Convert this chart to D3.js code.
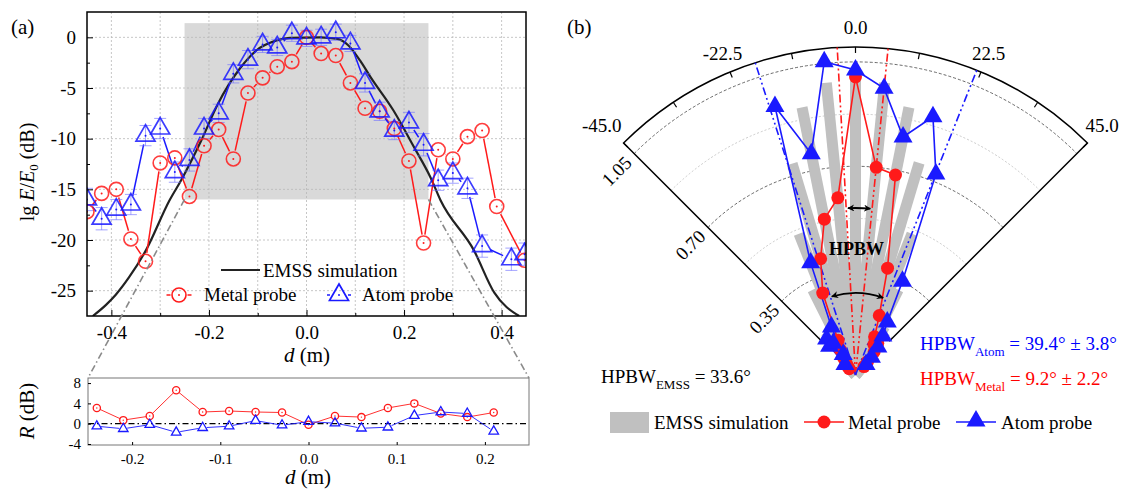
<!DOCTYPE html>
<html>
<head>
<meta charset="utf-8">
<title>Beam profile and HPBW</title>
<script src="https://cdnjs.cloudflare.com/ajax/libs/d3/7.8.5/d3.min.js"></script>
<style>
	body { margin: 0; background: white; }
	svg text { font-family: "Liberation Serif", "Times New Roman", serif; fill: black; }
</style>
</head>
<body>
<svg id="fig" width="1129" height="489"></svg>
<script>

	// ---------- data, panel (a): transverse position d (m) and lg E/E0 (dB)
	var metalD  = [-0.45,-0.42,-0.39,-0.36,-0.33,-0.30,-0.27,-0.24,-0.21,-0.18,-0.15,-0.12,-0.09,-0.06,-0.03,0,
		0.03,0.06,0.09,0.12,0.15,0.18,0.21,0.24,0.27,0.30,0.33,0.36,0.39,0.447];
	var metalDb = [-17.2,-15.4,-15.0,-19.9,-22.1,-12.4,-11.9,-15.7,-10.7,-9.1,-12.0,-5.5,-4.0,-2.9,-2.4,0,
		-1.6,-1.8,-4.5,-7.0,-7.3,-9.0,-12.2,-20.3,-11.1,-12.0,-9.8,-9.2,-16.7,-22.0];
	var atomD   = [-0.45,-0.42,-0.39,-0.36,-0.33,-0.30,-0.27,-0.24,-0.21,-0.18,-0.15,-0.12,-0.09,-0.06,-0.03,0,
		0.03,0.06,0.09,0.12,0.15,0.18,0.21,0.24,0.27,0.30,0.33,0.36,0.42,0.447];
	var atomDb  = [-16.0,-17.9,-17.0,-16.5,-9.7,-9.0,-13.3,-12.1,-9.0,-7.5,-3.6,-2.2,-0.7,-1.0,0.4,-0.1,
		0,0.5,-0.6,-4.5,-7.3,-9.2,-8.4,-10.6,-14.1,-13.4,-14.9,-20.6,-21.9,-21.4];
	var atomErr = [1.1,1.1,1.0,1.0,1.0,1.0,1.0,1.1,1.0,0.9,0.9,0.9,0.8,0.8,0.8,0.8,
		0.8,0.8,0.8,0.9,0.9,0.9,1.0,1.1,1.0,1.0,1.0,1.1,1.1,1.1];
	var emssD   = [-0.438,-0.411,-0.391,-0.364,-0.329,-0.281,-0.257,-0.216,-0.182,-0.137,-0.103,-0.061,-0.034,
		0.028,0.063,0.086,0.11,0.131,0.178,0.22,0.254,0.275,0.343,0.385,0.436];
	var emssDb  = [-27.5,-26.4,-25.4,-23.7,-21.0,-16.1,-14.1,-10.2,-6.6,-3.1,-1.3,-0.3,-0.05,
		0,-0.15,-0.8,-2.3,-3.9,-7.2,-10.8,-13.8,-16.1,-21.0,-25.2,-27.5];

	// residuals (bottom of panel a)
	var resD     = [-0.24,-0.21,-0.18,-0.15,-0.12,-0.09,-0.06,-0.03,0,0.03,0.06,0.09,0.12,0.15,0.18,0.21];
	var resMetal = [3.1,0.7,1.5,6.6,2.3,2.5,2.3,2.2,-0.2,1.5,1.3,3.1,4.0,2.0,1.3,2.2];
	var resAtom  = [-0.5,-1.0,-0.2,-1.7,-0.8,-0.5,0.6,-0.3,0.4,0.1,-0.9,-0.7,1.6,2.3,2.0,-1.5];

	// ---------- data, panel (b): angle (deg) and normalized amplitude
	var polarAng = [-45,-42,-38.7,-35,-31,-26.6,-21.8,-16.7,-11.3,-5.7,0,5.7,11.3,16.7,21.8,26.6,31,35,38.7,42,45];
	var emssR    = [0.01,0.02,0.04,0.08,0.18,0.32,0.51,0.74,0.915,0.985,1.0,0.985,0.915,0.743,0.51,0.32,0.19,0.1,0.05,0.025,0.01];
	var metalR   = [0.03,0.04,0.05,0.07,0.10,0.13,0.296,0.407,0.533,0.597,1.0,0.70,0.684,0.374,0.215,0.143,0.12,0.13,0.10,0.06,0.04];
	var atomR    = [0.05,0.13,0.155,0.13,0.08,0.18,0.405,0.94,0.757,1.056,1.023,0.966,0.814,0.904,0.726,0.352,0.207,0.16,0.12,0.08,0.05];
	var hpbwMetal = [-3.2, 5.7];
	var hpbwAtom  = [-17.8, 21.7];
	var angTicks  = [-45,-33.75,-22.5,-11.25,0,11.25,22.5,33.75,45];
	var angLabels = [-22.5, 0, 22.5];
	var radLabels = [0.35, 0.70, 1.05];

	var RED = "#ff1a1a", BLUE = "#1a1aff";
	var svg = d3.select("#fig");

	var defs = svg.append("defs");
	defs.append("clipPath").attr("id", "clipA").append("rect")
		.attr("x", 87).attr("y", 12).attr("width", 439).attr("height", 304);
	defs.append("marker").attr("id", "arrow").attr("viewBox", "0 0 10 10")
		.attr("refX", 9).attr("refY", 5).attr("markerWidth", 7).attr("markerHeight", 7)
		.attr("markerUnits", "userSpaceOnUse").attr("orient", "auto-start-reverse")
		.append("path").attr("d", "M0,0L10,5L0,10L3,5Z").attr("fill", "black");

	function tri(s) {
		var h = s * Math.sqrt(3) / 2;
		return "M0," + (-2 * h / 3) + "L" + (s / 2) + "," + (h / 3) + "L" + (-s / 2) + "," + (h / 3) + "Z";
	}

	// line segments that stop short of hollow markers
	function gapSegments(pts, gap) {
		var segs = [];
		for (var i = 0; i < pts.length - 1; i++) {
			var a = pts[i], b = pts[i + 1];
			var dx = b[0] - a[0], dy = b[1] - a[1], L = Math.hypot(dx, dy);
			if (L <= 2 * gap) continue;
			var ux = dx / L, uy = dy / L;
			segs.push([a[0] + ux * gap, a[1] + uy * gap, b[0] - ux * gap, b[1] - uy * gap]);
		}
		return segs;
	}

	function drawSegs(g, segs, color, w) {
		g.selectAll(null).data(segs).enter().append("line")
			.attr("x1", d => d[0]).attr("y1", d => d[1]).attr("x2", d => d[2]).attr("y2", d => d[3])
			.attr("stroke", color).attr("stroke-width", w);
	}

	function styleAxis(g, fs) {
		g.select(".domain").remove();
		g.selectAll(".tick line").attr("stroke", "black").attr("stroke-width", 1);
		g.selectAll(".tick text").attr("font-size", fs).attr("font-family", "Liberation Serif").attr("fill", "black");
	}

	// ================= panel (a), main =================
	var x = d3.scaleLinear().domain([-0.45, 0.45]).range([87, 526]);
	var y = d3.scaleLinear().domain([-27.5, 2.5]).range([316, 12]);

	var gA = svg.append("g");
	gA.append("rect")
		.attr("x", x(-0.25)).attr("y", y(1.4))
		.attr("width", x(0.25) - x(-0.25)).attr("height", y(-16) - y(1.4))
		.attr("fill", "#d9d9d9");

	gA.selectAll("line.vgrid").data(d3.range(-4, 5).map(d => d / 10)).enter().append("line")
		.attr("x1", d => x(d)).attr("x2", d => x(d)).attr("y1", 12).attr("y2", 316)
		.attr("stroke", "#b8b8b8").attr("stroke-width", 0.8).attr("stroke-dasharray", "2,2");
	gA.selectAll("line.hgrid").data([0, -5, -10, -15, -20, -25]).enter().append("line")
		.attr("y1", d => y(d)).attr("y2", d => y(d)).attr("x1", 87).attr("x2", 526)
		.attr("stroke", "#b8b8b8").attr("stroke-width", 0.8).attr("stroke-dasharray", "2,2");

	var plotA = gA.append("g").attr("clip-path", "url(#clipA)");

	plotA.append("path")
		.attr("d", d3.line().x((d, i) => x(emssD[i])).y(d => y(d)).curve(d3.curveMonotoneX)(emssDb))
		.attr("fill", "none").attr("stroke", "#222").attr("stroke-width", 2.2);

	var metalPts = metalD.map((d, i) => [x(d), y(metalDb[i])]);
	var atomPts = atomD.map((d, i) => [x(d), y(atomDb[i])]);

	drawSegs(plotA, gapSegments(metalPts, 8.5), RED, 1.5);
	drawSegs(plotA, gapSegments(atomPts, 9), BLUE, 1.5);

	// faint error bars on the atom probe points
	var eb = plotA.append("g").attr("stroke", "#6f6fff").attr("stroke-width", 0.9).attr("stroke-opacity", 0.7);
	atomD.forEach(function (d, i) {
		var xx = x(d), y0 = y(atomDb[i] - atomErr[i]), y1 = y(atomDb[i] + atomErr[i]);
		eb.append("line").attr("x1", xx).attr("x2", xx).attr("y1", y0).attr("y2", y1);
		eb.append("line").attr("x1", xx - 6).attr("x2", xx + 6).attr("y1", y0).attr("y2", y0);
		eb.append("line").attr("x1", xx - 6).attr("x2", xx + 6).attr("y1", y1).attr("y2", y1);
	});

	plotA.selectAll("circle.m").data(metalPts).enter().append("circle")
		.attr("cx", d => d[0]).attr("cy", d => d[1]).attr("r", 7)
		.attr("fill", "none").attr("stroke", RED).attr("stroke-width", 1.6).attr("stroke-opacity", 0.85);
	plotA.selectAll("circle.md").data(metalPts).enter().append("circle")
		.attr("cx", d => d[0]).attr("cy", d => d[1]).attr("r", 1).attr("fill", RED);
	plotA.selectAll("path.a").data(atomPts).enter().append("path")
		.attr("d", tri(19)).attr("transform", d => "translate(" + d[0] + "," + d[1] + ")")
		.attr("fill", "none").attr("stroke", BLUE).attr("stroke-width", 1.7).attr("stroke-opacity", 0.85);
	plotA.selectAll("circle.ad").data(atomPts).enter().append("circle")
		.attr("cx", d => d[0]).attr("cy", d => d[1]).attr("r", 1).attr("fill", BLUE);

	gA.append("rect").attr("x", 87).attr("y", 12).attr("width", 439).attr("height", 304)
		.attr("fill", "none").attr("stroke", "black").attr("stroke-width", 1.5);

	var axA = gA.append("g").attr("transform", "translate(0,316)")
		.call(d3.axisBottom(x).tickValues([-0.4, -0.2, 0, 0.2, 0.4]).tickFormat(d => d.toFixed(1))
			.tickSize(-6).tickPadding(10));
	styleAxis(axA, 19);
	var axAm = gA.append("g").attr("transform", "translate(0,316)")
		.call(d3.axisBottom(x).tickValues([-0.3, -0.1, 0.1, 0.3]).tickFormat("").tickSize(-3));
	styleAxis(axAm, 19);
	var ayA = gA.append("g").attr("transform", "translate(87,0)")
		.call(d3.axisLeft(y).tickValues([0, -5, -10, -15, -20, -25]).tickFormat(d => String(d))
			.tickSize(-6).tickPadding(11));
	styleAxis(ayA, 19);
	var ayAm = gA.append("g").attr("transform", "translate(87,0)")
		.call(d3.axisLeft(y).tickValues([-2.5, -7.5, -12.5, -17.5, -22.5]).tickFormat("").tickSize(-3));
	styleAxis(ayAm, 19);

	var yl = gA.append("text").attr("transform", "translate(34,172) rotate(-90)")
		.attr("text-anchor", "middle").attr("font-size", 20);
	yl.append("tspan").text("lg ");
	yl.append("tspan").attr("font-style", "italic").text("E");
	yl.append("tspan").text("/");
	yl.append("tspan").attr("font-style", "italic").text("E");
	yl.append("tspan").attr("font-size", 13).attr("dy", 4).text("0");
	yl.append("tspan").attr("dy", -4).text(" (dB)");

	var xl = gA.append("text").attr("x", 307).attr("y", 362).attr("text-anchor", "middle").attr("font-size", 21);
	xl.append("tspan").attr("font-style", "italic").text("d");
	xl.append("tspan").text(" (m)");

	gA.append("text").attr("x", 11).attr("y", 34).attr("font-size", 21).text("(a)");

	// legend (a)
	gA.append("line").attr("x1", 221).attr("x2", 260).attr("y1", 270).attr("y2", 270)
		.attr("stroke", "#222").attr("stroke-width", 2.2);
	gA.append("text").attr("x", 263).attr("y", 277).attr("font-size", 19).text("EMSS simulation");
	drawSegs(gA, gapSegments([[158, 295], [179, 295], [200, 295]], 8.5), RED, 1.5);
	gA.append("circle").attr("cx", 179).attr("cy", 295).attr("r", 7)
		.attr("fill", "none").attr("stroke", RED).attr("stroke-width", 1.6);
	gA.append("circle").attr("cx", 179).attr("cy", 295).attr("r", 1).attr("fill", RED);
	gA.append("text").attr("x", 204).attr("y", 301).attr("font-size", 19).text("Metal probe");
	drawSegs(gA, gapSegments([[318, 295], [339, 295], [360, 295]], 9), BLUE, 1.5);
	gA.append("path").attr("d", tri(19)).attr("transform", "translate(339,295)")
		.attr("fill", "none").attr("stroke", BLUE).attr("stroke-width", 1.7);
	gA.append("circle").attr("cx", 339).attr("cy", 295).attr("r", 1).attr("fill", BLUE);
	gA.append("text").attr("x", 362).attr("y", 301).attr("font-size", 19).text("Atom probe");

	// ================= panel (a), residuals =================
	var bx = d3.scaleLinear().domain([-0.25, 0.25]).range([88, 529]);
	var by = d3.scaleLinear().domain([-4.2, 9]).range([445, 378]);

	var gR = svg.append("g");
	gR.append("line").attr("x1", 88).attr("x2", 529).attr("y1", by(0)).attr("y2", by(0))
		.attr("stroke", "black").attr("stroke-width", 1.2).attr("stroke-dasharray", "6,3,1.5,3");

	var rmPts = resD.map((d, i) => [bx(d), by(resMetal[i])]);
	var raPts = resD.map((d, i) => [bx(d), by(resAtom[i])]);
	drawSegs(gR, gapSegments(rmPts, 3.5), RED, 0.9);
	drawSegs(gR, gapSegments(raPts, 4), BLUE, 0.9);
	gR.selectAll("circle.rm").data(rmPts).enter().append("circle")
		.attr("cx", d => d[0]).attr("cy", d => d[1]).attr("r", 3.6)
		.attr("fill", "none").attr("stroke", RED).attr("stroke-width", 1.3);
	gR.selectAll("circle.rmd").data(rmPts).enter().append("circle")
		.attr("cx", d => d[0]).attr("cy", d => d[1]).attr("r", 0.7).attr("fill", RED);
	gR.selectAll("path.ra").data(raPts).enter().append("path")
		.attr("d", tri(9.5)).attr("transform", d => "translate(" + d[0] + "," + d[1] + ")")
		.attr("fill", "none").attr("stroke", BLUE).attr("stroke-width", 1.3);

	gR.append("rect").attr("x", 88).attr("y", 378).attr("width", 441).attr("height", 67)
		.attr("fill", "none").attr("stroke", "#777").attr("stroke-width", 1);

	var axR = gR.append("g").attr("transform", "translate(0,445)")
		.call(d3.axisBottom(bx).tickValues([-0.2, -0.1, 0, 0.1, 0.2]).tickFormat(d => d.toFixed(1))
			.tickSize(-3).tickPadding(8));
	styleAxis(axR, 15);
	var ayR = gR.append("g").attr("transform", "translate(88,0)")
		.call(d3.axisLeft(by).tickValues([8, 4, 0, -4]).tickFormat(d => String(d))
			.tickSize(-3).tickPadding(7));
	styleAxis(ayR, 15);

	var rl = gR.append("text").attr("transform", "translate(34,411) rotate(-90)")
		.attr("text-anchor", "middle").attr("font-size", 21);
	rl.append("tspan").attr("font-style", "italic").text("R");
	rl.append("tspan").text(" (dB)");
	var bl = gR.append("text").attr("x", 308).attr("y", 484).attr("text-anchor", "middle").attr("font-size", 21);
	bl.append("tspan").attr("font-style", "italic").text("d");
	bl.append("tspan").text(" (m)");

	// zoom guides from the grey box to the residual frame
	[[-0.25, 88], [0.25, 529]].forEach(function (p) {
		svg.append("line").attr("x1", x(p[0])).attr("y1", y(-16)).attr("x2", p[1]).attr("y2", 378)
			.attr("stroke", "#8a8a8a").attr("stroke-width", 1.6).attr("stroke-dasharray", "7,3,1.5,3");
	});

	// ================= panel (b), polar =================
	var cx = 855.5, cy = 375;
	var r = d3.scaleLinear().domain([0, 1.1]).range([0, 328]);
	var ang = d3.scaleLinear().domain([-90, 90]).range([-Math.PI / 2, Math.PI / 2]);
	function px(a, v) { return cx + r(v) * Math.sin(ang(a)); }
	function py(a, v) { return cy - r(v) * Math.cos(ang(a)); }
	function arcPath(v, a0, a1) {
		var p = d3.path();
		p.arc(cx, cy, r(v), ang(a0) - Math.PI / 2, ang(a1) - Math.PI / 2);
		return p.toString();
	}

	var gP = svg.append("g");

	gP.selectAll("path.minor").data([0.175, 0.525, 0.875]).enter().append("path")
		.attr("d", d => arcPath(d, -45, 45)).attr("fill", "none")
		.attr("stroke", "#bdbdbd").attr("stroke-width", 0.8).attr("stroke-dasharray", "2,2");
	gP.selectAll("path.major").data(radLabels).enter().append("path")
		.attr("d", d => arcPath(d, -45, 45)).attr("fill", "none")
		.attr("stroke", "#444").attr("stroke-width", 0.8).attr("stroke-dasharray", "3,2");

	gP.selectAll("rect.bar").data(polarAng).enter().append("rect")
		.attr("x", -5.5).attr("width", 11)
		.attr("y", (d, i) => -r(emssR[i])).attr("height", (d, i) => r(emssR[i]))
		.attr("transform", d => "translate(" + cx + "," + cy + ") rotate(" + d + ")")
		.attr("fill", "#c0c0c0");

	// frame: radial edges and outer arc
	var fr = d3.path();
	fr.moveTo(px(-45, 0.16), py(-45, 0.16));
	fr.lineTo(px(-45, 1.1), py(-45, 1.1));
	fr.arc(cx, cy, r(1.1), ang(-45) - Math.PI / 2, ang(45) - Math.PI / 2);
	fr.lineTo(px(45, 0.16), py(45, 0.16));
	gP.append("path").attr("d", fr.toString()).attr("fill", "none")
		.attr("stroke", "black").attr("stroke-width", 1.5);

	gP.selectAll("line.atick").data(angTicks).enter().append("line")
		.attr("x1", d => px(d, 1.1)).attr("y1", d => py(d, 1.1))
		.attr("x2", d => px(d, 1.08)).attr("y2", d => py(d, 1.08))
		.attr("stroke", "black").attr("stroke-width", 1.2);

	gP.selectAll("text.alab").data(angLabels).enter().append("text")
		.attr("x", d => px(d, 1.166)).attr("y", d => py(d, 1.166))
		.attr("text-anchor", "middle").attr("dominant-baseline", "central").attr("font-size", 19)
		.text(d => d.toFixed(1));
	gP.append("text").attr("x", px(-45, 1.1) - 2).attr("y", py(-45, 1.1) - 11)
		.attr("text-anchor", "end").attr("font-size", 19).text("-45.0");
	gP.append("text").attr("x", px(45, 1.1) - 2).attr("y", py(45, 1.1) - 11)
		.attr("text-anchor", "start").attr("font-size", 19).text("45.0");

	gP.selectAll("text.rlab").data(radLabels).enter().append("text")
		.attr("transform", d => "translate(" + (px(-45, d) - 17.5) + "," + (py(-45, d) + 17.5) + ") rotate(-45)")
		.attr("text-anchor", "middle").attr("dominant-baseline", "central").attr("font-size", 19)
		.text(d => d.toFixed(2));

	// half-power direction lines
	function hpLines(angles, color) {
		gP.selectAll(null).data(angles).enter().append("line")
			.attr("x1", cx).attr("y1", cy).attr("x2", d => px(d, 1.1)).attr("y2", d => py(d, 1.1))
			.attr("stroke", color).attr("stroke-width", 1.6).attr("stroke-dasharray", "8,3,2,3,2,3");
	}
	hpLines(hpbwMetal, RED);
	hpLines(hpbwAtom, BLUE);

	var lineP = (vals) => d3.line().x((d, i) => px(d, vals[i])).y((d, i) => py(d, vals[i]))(polarAng);
	gP.append("path").attr("d", lineP(metalR)).attr("fill", "none").attr("stroke", RED).attr("stroke-width", 1.6);
	gP.append("path").attr("d", lineP(atomR)).attr("fill", "none").attr("stroke", BLUE).attr("stroke-width", 1.6);

	gP.selectAll("circle.pm").data(polarAng).enter().append("circle")
		.attr("cx", (d, i) => px(d, metalR[i])).attr("cy", (d, i) => py(d, metalR[i]))
		.attr("r", 6.5).attr("fill", RED);
	gP.selectAll("path.pa").data(polarAng).enter().append("path")
		.attr("d", tri(19))
		.attr("transform", (d, i) => "translate(" + px(d, atomR[i]) + "," + py(d, atomR[i]) + ")")
		.attr("fill", BLUE);

	// HPBW arrows
	gP.append("path").attr("d", arcPath(0.56, hpbwMetal[0] + 0.6, hpbwMetal[1] - 0.6))
		.attr("fill", "none").attr("stroke", "black").attr("stroke-width", 1.8)
		.attr("marker-start", "url(#arrow)").attr("marker-end", "url(#arrow)");
	gP.append("path").attr("d", arcPath(0.275, hpbwAtom[0] + 1, hpbwAtom[1] - 2))
		.attr("fill", "none").attr("stroke", "black").attr("stroke-width", 1.8)
		.attr("marker-start", "url(#arrow)").attr("marker-end", "url(#arrow)");
	gP.append("text").attr("x", 856.5).attr("y", 255).attr("text-anchor", "middle")
		.attr("font-size", 18).attr("font-weight", "bold").text("HPBW");

	gP.append("text").attr("x", 567).attr("y", 34).attr("font-size", 21).text("(b)");

	function hpbwText(xp, yp, sub, rest, color) {
		var t = gP.append("text").attr("x", xp).attr("y", yp).attr("font-size", 19).style("fill", color);
		t.append("tspan").text("HPBW");
		t.append("tspan").attr("font-size", 13).attr("dy", 6).text(sub);
		t.append("tspan").attr("dy", -6).text(rest);
	}
	hpbwText(601, 383, "EMSS", " = 33.6°", "black");
	hpbwText(920, 350, "Atom", " = 39.4° ± 3.8°", "#0000ff");
	hpbwText(920, 385, "Metal", " = 9.2° ± 2.2°", "#ff0000");

	// legend (b)
	gP.append("rect").attr("x", 610).attr("y", 412).attr("width", 39).attr("height", 21).attr("fill", "#c0c0c0");
	gP.append("text").attr("x", 654).attr("y", 429).attr("font-size", 19).text("EMSS simulation");
	gP.append("line").attr("x1", 804).attr("x2", 844).attr("y1", 422).attr("y2", 422)
		.attr("stroke", RED).attr("stroke-width", 1.6);
	gP.append("circle").attr("cx", 824).attr("cy", 422).attr("r", 6.5).attr("fill", RED);
	gP.append("text").attr("x", 848).attr("y", 429).attr("font-size", 19).text("Metal probe");
	gP.append("line").attr("x1", 956).attr("x2", 996).attr("y1", 422).attr("y2", 422)
		.attr("stroke", BLUE).attr("stroke-width", 1.6);
	gP.append("path").attr("d", tri(19)).attr("transform", "translate(976,421)").attr("fill", BLUE);
	gP.append("text").attr("x", 1001).attr("y", 429).attr("font-size", 19).text("Atom probe");

</script>
</body>
</html>
